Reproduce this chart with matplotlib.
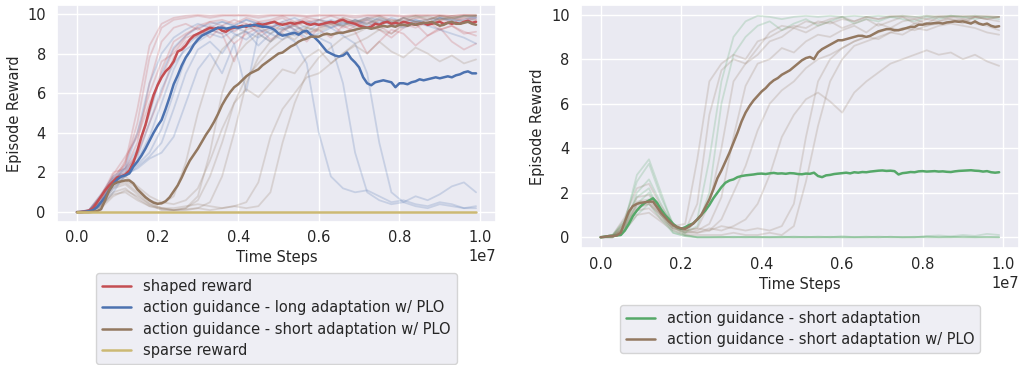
import numpy as np
import matplotlib
matplotlib.use('Agg')
import matplotlib.pyplot as plt
import seaborn as sns

sns.set_theme(style='darkgrid')
plt.rcParams['font.family'] = ['DejaVu Sans']
plt.rcParams['font.size'] = 10.5

# x grids (fraction of 1e7 time steps)
mean_x = np.linspace(0, 0.99, 100)
run_x = np.linspace(0, 0.99, 34)

# ---- left panel: mean curves ----
shaped_mean = [0.0, 0.0, 0.03, 0.08, 0.2, 0.5, 0.8, 1.1, 1.35, 1.55,
               1.75, 1.8, 1.9, 2.1, 2.5, 3.1, 3.8, 4.4, 5.2, 5.9,
               6.4, 6.8, 7.1, 7.3, 7.6, 8.1, 8.2, 8.4, 8.7, 8.9,
               9.0, 9.1, 9.2, 9.3, 9.25, 9.3, 9.15, 9.1, 9.25, 9.3,
               9.35, 9.4, 9.35, 9.45, 9.4, 9.5, 9.45, 9.5, 9.55, 9.6,
               9.5, 9.45, 9.5, 9.55, 9.5, 9.55, 9.6, 9.5, 9.45, 9.5,
               9.45, 9.5, 9.55, 9.6, 9.55, 9.65, 9.7, 9.6, 9.55, 9.5,
               9.4, 9.35, 9.3, 9.35, 9.5, 9.45, 9.55, 9.6, 9.5, 9.55,
               9.5, 9.6, 9.55, 9.5, 9.45, 9.5, 9.55, 9.45, 9.5, 9.55,
               9.6, 9.5, 9.55, 9.5, 9.55, 9.5, 9.6, 9.65, 9.55, 9.6]
long_mean = [0.0, 0.0, 0.02, 0.05, 0.1, 0.25, 0.5, 0.75, 1.1, 1.4,
             1.65, 1.8, 1.85, 1.95, 2.3, 2.55, 2.85, 3.2, 3.6, 4.0,
             4.35, 4.65, 5.2, 5.8, 6.45, 6.9, 7.4, 7.8, 8.1, 8.45,
             8.7, 8.9, 9.0, 9.1, 9.2, 9.3, 9.3, 9.25, 9.3, 9.35,
             9.3, 9.35, 9.4, 9.4, 9.45, 9.4, 9.35, 9.35, 9.3, 9.2,
             9.0, 8.9, 8.95, 9.0, 9.05, 8.95, 9.1, 9.15, 8.95, 8.8,
             8.6, 8.35, 8.1, 8.0, 7.9, 7.85, 7.9, 8.05, 7.75, 7.55,
             7.3, 6.8, 6.5, 6.4, 6.55, 6.6, 6.65, 6.6, 6.55, 6.3,
             6.5, 6.5, 6.45, 6.55, 6.6, 6.7, 6.65, 6.7, 6.75, 6.8,
             6.75, 6.8, 6.85, 6.8, 6.9, 6.95, 7.05, 7.1, 7.0, 7.0]
short_plo_mean = [0.0, 0.0, 0.0, 0.0, 0.02, 0.05, 0.15, 0.6, 1.1, 1.4,
                  1.5, 1.55, 1.6, 1.6, 1.45, 1.15, 0.95, 0.75, 0.6, 0.48,
                  0.42, 0.45, 0.55, 0.75, 1.05, 1.35, 1.75, 2.2, 2.6, 2.9,
                  3.2, 3.55, 3.9, 4.2, 4.55, 4.95, 5.4, 5.75, 6.05, 6.3,
                  6.45, 6.65, 6.85, 7.0, 7.1, 7.2, 7.4, 7.55, 7.7, 7.85,
                  8.0, 8.05, 8.2, 8.35, 8.45, 8.6, 8.7, 8.75, 8.85, 8.85,
                  8.85, 8.95, 9.0, 8.95, 9.0, 9.05, 9.05, 9.1, 9.15, 9.2,
                  9.25, 9.3, 9.3, 9.25, 9.3, 9.35, 9.4, 9.35, 9.4, 9.35,
                  9.45, 9.45, 9.4, 9.5, 9.45, 9.5, 9.55, 9.55, 9.6, 9.5,
                  9.4, 9.45, 9.55, 9.6, 9.5, 9.5, 9.55, 9.6, 9.5, 9.45]
sparse_mean = [0.0] * 100

# ---- left panel: individual runs ----
shaped_runs = [
    [0, 0.1, 0.9, 1.8, 2.4, 4.5, 7.8, 9.3, 9.7, 9.8, 9.9, 9.8, 9.9, 9.95, 9.9, 9.8, 9.9,
     9.95, 9.9, 9.85, 9.9, 9.95, 9.9, 9.8, 9.9, 9.95, 9.9, 9.85, 9.9, 9.95, 9.9, 9.9, 9.95, 9.9],
    [0, 0.05, 0.6, 1.5, 2.2, 3.5, 6.5, 8.6, 9.3, 9.5, 9.2, 9.6, 9.4, 9.7, 9.5, 9.3, 9.6,
     9.8, 9.4, 9.6, 9.7, 9.5, 9.8, 9.6, 9.3, 9.7, 9.5, 9.8, 9.6, 9.4, 9.7, 9.6, 9.8, 9.7],
    [0, 0.1, 0.8, 1.7, 2.0, 3.0, 5.0, 7.2, 8.6, 9.0, 9.3, 8.8, 9.4, 9.1, 9.5, 9.0, 9.3,
     9.6, 9.2, 8.6, 9.3, 9.5, 9.0, 9.4, 9.6, 9.2, 8.8, 9.3, 9.5, 8.9, 9.2, 9.4, 9.0, 9.1],
    [0, 0.0, 0.5, 1.6, 2.6, 4.0, 6.0, 7.6, 8.0, 8.8, 9.0, 9.4, 9.2, 8.5, 9.0, 9.3, 8.7,
     9.1, 9.5, 9.0, 9.2, 8.8, 9.4, 9.1, 8.0, 8.6, 9.2, 9.0, 8.4, 8.9, 9.3, 8.6, 8.2, 8.5],
    [0, 0.1, 0.7, 1.9, 2.8, 3.8, 5.5, 6.8, 8.2, 8.9, 9.4, 9.6, 9.7, 9.5, 9.8, 9.6, 9.7,
     9.9, 9.6, 9.8, 9.7, 9.9, 9.7, 9.5, 9.8, 9.9, 9.7, 9.6, 9.8, 9.7, 9.9, 9.8, 9.7, 9.8],
    [0, 0.05, 0.8, 2.0, 2.2, 2.9, 4.5, 6.0, 7.8, 8.6, 8.9, 9.2, 9.0, 7.6, 9.3, 9.6, 9.4,
     9.2, 9.5, 9.7, 9.4, 9.6, 9.3, 9.5, 9.7, 9.4, 9.0, 9.5, 9.3, 9.6, 9.2, 9.4, 9.1, 8.9],
    [0, 0.0, 0.4, 1.4, 2.5, 5.2, 8.4, 9.5, 9.8, 9.9, 9.95, 9.9, 9.95, 9.9, 9.95, 9.9, 9.95,
     9.9, 9.95, 9.9, 9.95, 9.9, 9.95, 9.9, 9.95, 9.9, 9.95, 9.9, 9.95, 9.9, 9.95, 9.9, 9.95, 9.95],
]
long_runs = [
    [0, 0.05, 0.7, 1.6, 2.0, 2.6, 3.8, 5.5, 7.2, 8.4, 8.9, 9.2, 9.0, 9.3, 9.1, 8.8, 9.2,
     9.0, 8.6, 7.5, 4.0, 1.8, 1.2, 1.0, 1.1, 0.8, 0.5, 0.6, 0.4, 0.3, 0.5, 0.4, 0.2, 0.3],
    [0, 0.0, 0.5, 1.4, 1.9, 2.4, 3.0, 4.2, 6.0, 7.8, 8.8, 9.1, 9.4, 9.0, 8.7, 9.2, 9.0,
     9.3, 8.9, 9.1, 8.8, 8.5, 6.5, 3.0, 1.0, 0.6, 0.4, 0.5, 0.8, 0.6, 0.9, 1.3, 1.5, 1.0],
    [0, 0.1, 0.9, 1.8, 2.2, 3.2, 5.0, 7.0, 8.3, 8.9, 9.3, 9.5, 9.6, 9.4, 9.7, 9.5, 9.6,
     9.3, 9.5, 9.6, 9.4, 9.7, 9.5, 9.6, 9.8, 9.7, 9.5, 9.8, 9.6, 9.7, 9.8, 9.6, 9.7, 9.9],
    [0, 0.0, 0.4, 1.2, 1.8, 2.3, 2.8, 3.5, 5.2, 7.0, 8.2, 8.6, 8.0, 8.9, 9.1, 8.4, 9.0,
     8.7, 9.2, 8.8, 9.0, 9.3, 8.9, 8.5, 7.0, 3.5, 1.0, 0.5, 0.3, 0.2, 0.4, 0.3, 0.2, 0.2],
    [0, 0.05, 0.6, 1.7, 2.1, 2.8, 4.5, 6.2, 7.5, 8.2, 8.6, 9.0, 8.8, 9.2, 9.4, 9.1, 9.3,
     9.5, 9.2, 9.4, 9.6, 9.3, 9.5, 9.7, 9.4, 9.6, 9.5, 9.3, 9.6, 9.4, 9.2, 9.0, 8.8, 8.5],
    [0, 0.0, 0.3, 1.0, 1.9, 2.2, 2.7, 3.0, 3.8, 5.5, 7.2, 8.0, 7.0, 8.5, 6.1, 9.0, 8.6,
     9.2, 9.4, 9.1, 9.5, 9.3, 9.6, 9.4, 9.7, 9.5, 9.8, 9.6, 9.7, 9.5, 9.8, 9.7, 9.9, 9.8],
    [0, 0.1, 0.8, 1.5, 2.3, 4.0, 6.5, 8.0, 8.8, 9.2, 9.5, 9.3, 9.6, 9.4, 9.7, 9.5, 9.3,
     9.6, 9.8, 9.5, 9.7, 9.6, 9.4, 9.7, 9.5, 9.8, 9.6, 9.4, 9.7, 9.5, 9.8, 9.7, 9.6, 9.8],
]
short_plo_runs = [
    [0, 0.0, 0.6, 1.5, 1.6, 1.2, 0.6, 0.4, 0.8, 2.5, 5.0, 7.0, 8.2, 8.8, 9.2, 9.4, 9.0,
     9.5, 9.6, 9.3, 9.7, 9.5, 9.8, 9.6, 9.7, 9.9, 9.6, 9.8, 9.9, 9.7, 9.9, 9.8, 9.9, 9.95],
    [0, 0.0, 0.5, 1.3, 1.5, 1.0, 0.5, 0.2, 0.1, 0.2, 0.8, 3.0, 6.0, 7.8, 8.5, 9.0, 8.6,
     9.2, 9.4, 9.0, 9.3, 9.6, 9.4, 9.7, 9.5, 9.8, 9.6, 9.7, 9.9, 9.8, 9.7, 9.9, 9.8, 9.9],
    [0, 0.0, 0.4, 1.2, 1.4, 0.9, 0.4, 0.2, 0.1, 0.1, 0.2, 0.5, 1.8, 4.0, 6.5, 7.8, 8.6,
     9.0, 8.7, 9.3, 9.1, 9.4, 9.6, 9.3, 9.5, 9.7, 9.5, 9.8, 9.6, 9.7, 9.9, 9.8, 9.9, 9.9],
    [0, 0.0, 0.3, 1.0, 1.2, 0.7, 0.3, 0.15, 0.1, 0.15, 0.2, 0.1, 0.2, 0.3, 0.5, 1.5, 3.8,
     5.2, 6.0, 6.8, 7.0, 7.5, 8.0, 8.5, 8.8, 9.2, 9.0, 9.4, 9.6, 9.5, 9.8, 9.7, 9.9, 9.9],
    [0, 0.0, 0.3, 0.9, 1.0, 0.6, 0.3, 0.2, 0.2, 0.3, 0.4, 0.3, 0.2, 0.3, 0.2, 0.3, 1.0,
     3.5, 5.5, 7.0, 7.8, 8.3, 8.8, 9.0, 9.3, 9.2, 9.5, 9.4, 9.6, 9.5, 9.7, 9.8, 9.6, 9.7],
    [0, 0.0, 0.5, 1.4, 1.8, 1.3, 0.8, 0.5, 0.4, 0.6, 1.2, 2.6, 4.2, 5.5, 6.2, 5.8, 6.5,
     7.2, 7.0, 7.8, 8.2, 7.5, 8.0, 8.4, 8.0, 8.6, 8.1, 7.8, 8.3, 8.0, 7.6, 7.9, 7.5, 7.7],
    [0, 0.0, 0.2, 0.8, 1.1, 0.8, 0.4, 0.1, 0.1, 0.2, 0.6, 1.8, 3.5, 5.5, 6.8, 7.5, 8.2,
     8.7, 9.0, 9.3, 9.2, 9.5, 9.4, 9.6, 9.8, 9.5, 9.7, 9.6, 9.8, 9.9, 9.7, 9.8, 9.9, 9.9],
]

# ---- right panel: mean curves ----
short_mean = [0.0, 0.02, 0.05, 0.06, 0.08, 0.1, 0.3, 0.6, 0.95, 1.2,
              1.4, 1.55, 1.65, 1.75, 1.55, 1.25, 1.0, 0.8, 0.6, 0.45,
              0.38, 0.45, 0.55, 0.62, 0.8, 1.0, 1.2, 1.45, 1.75, 2.0,
              2.25, 2.45, 2.55, 2.6, 2.7, 2.75, 2.78, 2.8, 2.82, 2.85,
              2.86, 2.84, 2.87, 2.89, 2.86, 2.87, 2.85, 2.88, 2.87, 2.84,
              2.83, 2.86, 2.85, 2.9, 2.75, 2.7, 2.78, 2.8, 2.84, 2.86,
              2.88, 2.9, 2.87, 2.92, 2.9, 2.93, 2.92, 2.95, 2.97, 2.99,
              3.0, 2.98, 2.99, 2.97, 2.82, 2.88, 2.9, 2.93, 2.92, 2.96,
              2.97, 2.95, 2.96, 2.97, 2.95, 2.96, 2.94, 2.93, 2.96, 2.98,
              2.99, 3.0, 3.01, 2.99, 2.98, 2.95, 2.97, 2.92, 2.9, 2.92]
short_plo_mean_r = [0.0, 0.02, 0.05, 0.06, 0.08, 0.2, 0.7, 1.15, 1.4, 1.5,
                    1.55, 1.57, 1.6, 1.6, 1.35, 1.1, 0.9, 0.7, 0.55, 0.45,
                    0.4, 0.38, 0.48, 0.62, 0.8, 1.0, 1.35, 1.7, 2.15, 2.65,
                    3.0, 3.4, 3.8, 4.25, 4.7, 5.2, 5.6, 5.9, 6.15, 6.35,
                    6.55, 6.7, 6.9, 7.05, 7.15, 7.3, 7.4, 7.5, 7.65, 7.8,
                    7.95, 8.05, 8.1, 8.0, 8.3, 8.45, 8.55, 8.65, 8.75, 8.85,
                    8.85, 8.9, 8.95, 9.0, 9.05, 9.05, 9.0, 9.05, 9.15, 9.25,
                    9.3, 9.35, 9.35, 9.3, 9.3, 9.35, 9.4, 9.45, 9.45, 9.55,
                    9.55, 9.6, 9.6, 9.62, 9.63, 9.6, 9.65, 9.67, 9.7, 9.68,
                    9.7, 9.65, 9.6, 9.7, 9.6, 9.55, 9.6, 9.5, 9.45, 9.48]

# ---- right panel: individual runs ----
short_runs = [
    [0, 0.1, 0.8, 2.5, 3.3, 1.8, 0.6, 0.2, 0.8, 3.5, 7.0, 9.0, 9.7, 9.95, 9.9, 9.8, 9.9,
     9.95, 9.9, 9.95, 9.9, 9.95, 9.9, 9.95, 9.9, 9.95, 9.9, 9.95, 9.9, 9.95, 9.9, 9.95, 9.9, 9.9],
    [0, 0.05, 0.5, 2.0, 2.6, 1.5, 0.5, 0.2, 0.5, 2.0, 6.0, 8.2, 9.0, 9.5, 9.7, 9.3, 9.6,
     9.8, 9.5, 9.7, 9.9, 9.6, 9.8, 9.7, 9.9, 9.8, 9.7, 9.9, 9.8, 9.95, 9.9, 9.8, 9.9, 9.8],
    [0, 0.05, 0.4, 1.5, 2.0, 1.2, 0.3, 0.1, 0.0, 0.0, 0.0, 0.0, 0.0, 0.02, 0.0, 0.0, 0.03,
     0.0, 0.0, 0.02, 0.0, 0.0, 0.0, 0.03, 0.0, 0.0, 0.02, 0.0, 0.0, 0.0, 0.03, 0.0, 0.0, 0.0],
    [0, 0.1, 0.6, 1.8, 2.2, 1.0, 0.2, 0.05, 0.0, 0.0, 0.02, 0.0, 0.0, 0.0, 0.0, 0.03, 0.0,
     0.0, 0.0, 0.0, 0.05, 0.0, 0.0, 0.0, 0.02, 0.0, 0.0, 0.04, 0.0, 0.0, 0.0, 0.0, 0.02, 0.0],
    [0, 0.0, 0.3, 1.0, 1.5, 0.8, 0.2, 0.05, 0.0, 0.0, 0.0, 0.02, 0.0, 0.0, 0.0, 0.0, 0.0,
     0.02, 0.0, 0.0, 0.0, 0.0, 0.03, 0.0, 0.0, 0.0, 0.0, 0.05, 0.08, 0.04, 0.1, 0.06, 0.15, 0.1],
    [0, 0.1, 0.7, 2.8, 3.5, 2.0, 0.5, 0.1, 0.0, 0.0, 0.0, 0.0, 0.02, 0.0, 0.0, 0.0, 0.0,
     0.0, 0.03, 0.0, 0.0, 0.0, 0.0, 0.0, 0.02, 0.0, 0.0, 0.0, 0.0, 0.02, 0.0, 0.0, 0.0, 0.0],
]
short_plo_runs_r = [
    [0, 0.05, 0.7, 1.8, 1.9, 1.2, 0.5, 0.6, 3.5, 7.0, 7.8, 8.2, 8.0, 8.8, 9.0, 9.3, 9.5,
     9.4, 9.7, 9.6, 9.8, 9.7, 9.9, 9.8, 9.9, 9.95, 9.9, 9.8, 9.95, 9.9, 9.95, 9.9, 9.95, 9.9],
    [0, 0.1, 0.9, 2.2, 2.4, 1.4, 0.6, 0.3, 1.5, 5.5, 7.5, 8.0, 7.8, 8.5, 9.2, 9.5, 9.4,
     9.7, 9.6, 9.8, 9.9, 9.7, 9.9, 9.8, 9.95, 9.9, 9.8, 9.95, 9.9, 9.95, 9.9, 9.95, 9.9, 9.9],
    [0, 0.05, 0.6, 1.6, 1.7, 1.0, 0.5, 0.3, 0.4, 1.5, 4.0, 7.0, 7.8, 8.2, 8.8, 9.0, 9.4,
     9.2, 9.5, 9.7, 9.4, 9.6, 9.8, 9.5, 9.7, 9.9, 9.6, 9.8, 9.7, 9.9, 9.8, 9.6, 9.5, 9.3],
    [0, 0.0, 0.5, 1.4, 1.5, 0.9, 0.4, 0.2, 0.3, 0.6, 1.8, 4.5, 6.8, 7.8, 8.0, 8.5, 8.3,
     8.8, 9.1, 9.0, 9.3, 9.5, 9.2, 9.6, 9.4, 9.7, 9.8, 9.6, 9.9, 9.8, 9.7, 9.9, 9.8, 9.9],
    [0, 0.05, 0.4, 1.2, 1.3, 0.8, 0.4, 0.3, 0.4, 0.3, 0.5, 0.4, 0.3, 0.4, 0.3, 0.5, 1.5,
     4.5, 7.0, 8.0, 8.5, 8.8, 9.0, 9.2, 9.4, 9.3, 9.6, 9.5, 9.7, 9.8, 9.6, 9.9, 9.8, 9.7],
    [0, 0.0, 0.3, 1.0, 1.1, 0.7, 0.3, 0.1, 0.1, 0.1, 0.1, 0.2, 0.1, 0.1, 0.2, 0.1, 0.5,
     2.5, 5.0, 7.0, 8.0, 8.6, 8.8, 9.0, 9.2, 9.1, 9.4, 9.3, 9.5, 9.6, 9.5, 9.4, 9.2, 9.1],
    [0, 0.0, 0.5, 1.5, 1.6, 1.0, 0.5, 0.3, 0.2, 0.3, 0.8, 2.0, 3.2, 4.8, 6.0, 6.6, 7.0,
     7.6, 8.0, 8.2, 8.5, 8.8, 9.0, 8.9, 9.2, 9.4, 9.3, 9.5, 9.6, 9.7, 9.8, 9.9, 9.8, 9.9],
    [0, 0.0, 0.4, 1.3, 1.5, 1.0, 0.4, 0.2, 0.2, 0.4, 0.3, 0.5, 0.8, 1.5, 2.8, 4.5, 5.5,
     6.2, 6.5, 6.1, 5.6, 6.5, 7.0, 7.4, 7.8, 8.0, 8.2, 8.4, 8.2, 8.3, 8.0, 8.2, 7.9, 7.7],
]

RED, BLUE, BROWN, KHAKI, GREEN = '#C44E52', '#4C72B0', '#937860', '#CCB974', '#55A868'
STEPS = 1e7

fig = plt.figure(figsize=(10.21, 3.65), dpi=100)
ax1 = fig.add_axes([0.0558, 0.3918, 0.430, 0.5945])
ax2 = fig.add_axes([0.5688, 0.3197, 0.4293, 0.6674])

# left
for runs, c in [(shaped_runs, RED), (long_runs, BLUE), (short_plo_runs, BROWN)]:
    for r in runs:
        ax1.plot(run_x * STEPS, r, color=c, alpha=0.22, lw=1.3)
ax1.plot(mean_x * STEPS, shaped_mean, color=RED, lw=1.8, label='shaped reward')
ax1.plot(mean_x * STEPS, long_mean, color=BLUE, lw=1.8,
         label='action guidance - long adaptation w/ PLO')
ax1.plot(mean_x * STEPS, short_plo_mean, color=BROWN, lw=1.8,
         label='action guidance - short adaptation w/ PLO')
ax1.plot(mean_x * STEPS, sparse_mean, color=KHAKI, lw=1.8, label='sparse reward')

# right
for runs, c in [(short_runs, GREEN), (short_plo_runs_r, BROWN)]:
    for r in runs:
        ax2.plot(run_x * STEPS, r, color=c, alpha=0.22, lw=1.3)
ax2.plot(mean_x * STEPS, short_mean, color=GREEN, lw=1.8,
         label='action guidance - short adaptation')
ax2.plot(mean_x * STEPS, short_plo_mean_r, color=BROWN, lw=1.8,
         label='action guidance - short adaptation w/ PLO')

for ax, ytop in [(ax1, -0.236), (ax2, -0.233)]:
    ax.set_xlabel('Time Steps', fontsize=10.5, labelpad=3.5)
    ax.set_ylabel('Episode Reward', fontsize=10.5, labelpad=4)
    ax.set_xticks(np.arange(0, 1.01, 0.2) * STEPS)
    ax.tick_params(axis='x', labelsize=10.5, length=0, pad=6)
    ax.tick_params(axis='y', labelsize=10.5, length=0, pad=8)
    ax.xaxis.get_offset_text().set_fontsize(10.5)
    ax.legend(loc='upper center', bbox_to_anchor=(0.5, ytop), borderaxespad=0,
              fontsize=10.5, labelspacing=0.44, frameon=True)

fig.savefig('out.png', dpi=100)
